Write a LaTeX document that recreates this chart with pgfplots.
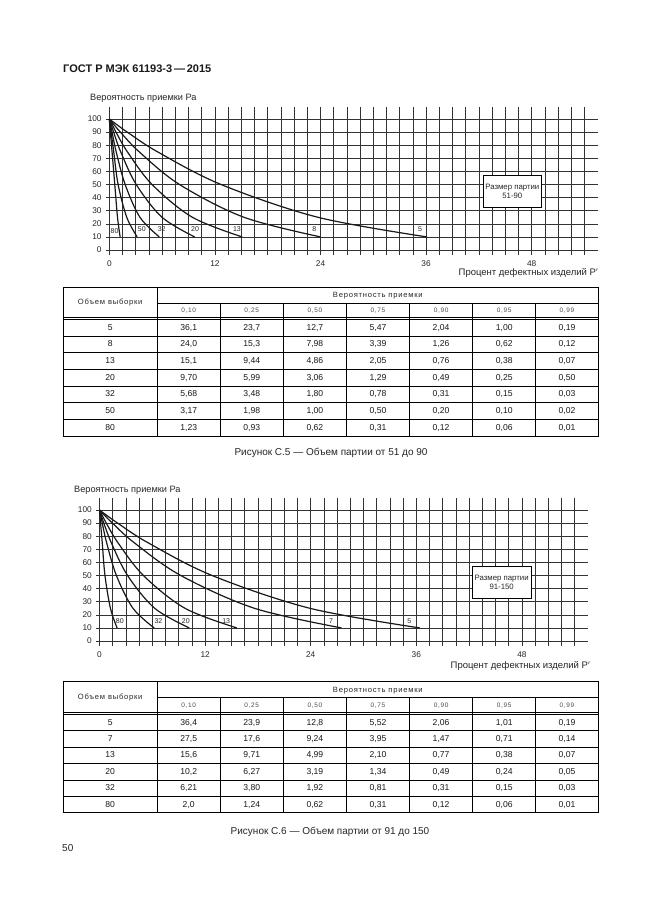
\documentclass[border=0pt]{standalone}
\usepackage{pgfplots}
\pgfplotsset{compat=1.18}
\usepackage{fontspec}
\setmainfont{Liberation Sans}
\newcommand\fs[1]{\fontsize{#1}{#1}\selectfont}

\pgfplotsset{oc/.style={
  scale only axis, width=491.9pt, height=148.3pt,
  xmin=-0.4, xmax=55.5, ymin=-3.8, ymax=109.4,
  axis line style={draw=none}, tick style={draw=none},
  xtick={0,12,24,36,48}, minor xtick={0,1.5,...,54}, ytick={0,10,...,100},
  xmajorgrids, xminorgrids, ymajorgrids,
  major grid style={black!80, line width=0.55pt},
  minor grid style={black!80, line width=0.55pt},
  /pgf/number format/assume math mode=true,
  ticklabel style={font=\fs{8.3}, text=black!85},
  xticklabel style={anchor=center, inner sep=0pt, yshift=-8.5pt},
  yticklabel style={anchor=east, inner sep=0pt, xshift=-4pt},
  clip=false,
}}
\tikzset{
  cv/.style={line width=1.2pt, black!90, smooth, tension=0.55, mark=none},
  tl/.style={line width=0.75pt, black},
  tc/.style={font=\fs{8.6}, inner sep=0pt, anchor=mid, text=black!90},
  th/.style={font=\fs{6.5}\addfontfeature{LetterSpace=10}, inner sep=0pt, anchor=mid, text=black!70},
  tg/.style={font=\fs{7.6}\addfontfeature{LetterSpace=10}, inner sep=0pt, anchor=mid, text=black!85},
  cl/.style={font=\fs{7}, inner sep=0pt, text=black!85},
  bx/.style={draw=black, fill=white, line width=0.6pt, minimum width=58.4pt, minimum height=32.3pt, align=center, font=\fs{7.8}, inner sep=0pt, text=black!85},
}
\newcommand\trow[9]{%
 \node[tc] at (110.2,#1) {#2};
 \node[tc] at (188.7,#1) {#3};
 \node[tc] at (251.7,#1) {#4};
 \node[tc] at (314.9,#1) {#5};
 \node[tc] at (378.0,#1) {#6};
 \node[tc] at (441.1,#1) {#7};
 \node[tc] at (504.2,#1) {#8};
 \node[tc] at (567.0,#1) {#9};}
\newcommand\thead[3]{% top, mid, double
 \node[tg] at (110.2,{(#1+#3)/2}) {Объем выборки};
 \node[tg] at (377.8,{(#1+#2)/2}) {Вероятность приемки};
 \foreach \x/\t in {188.7/{0,10},251.7/{0,25},314.9/{0,50},378.0/{0,75},441.1/{0,90},504.2/{0,95},567.0/{0,99}}
   \node[th] at (\x,{(#2+#3)/2}) {\t};}

\begin{document}
\begin{tikzpicture}[x=1pt,y=-1pt]
\path[use as bounding box, fill=white] (0,0) rectangle (646,913);

\node[anchor=west, font=\fs{11}\bfseries, text=black!90, inner sep=0pt] at (63,68.3) {ГОСТ Р МЭК 61193-3\,—\,2015};

% ---------- Chart C.5 ----------
\node[anchor=west, font=\fs{9.2}, text=black!85, inner sep=0pt] at (90,98.3) {Вероятность приемки Ра};
\begin{axis}[oc, at={(105.8pt,-255pt)}, anchor=south west]
\addplot[cv] coordinates {(0,100) (0.19,99) (1.00,95) (2.04,90) (5.47,75) (12.7,50) (23.7,25) (36.1,10)};
\addplot[cv] coordinates {(0,100) (0.12,99) (0.62,95) (1.26,90) (3.39,75) (7.98,50) (15.3,25) (24.0,10)};
\addplot[cv] coordinates {(0,100) (0.07,99) (0.38,95) (0.76,90) (2.05,75) (4.86,50) (9.44,25) (15.1,10)};
\addplot[cv] coordinates {(0,100) (0.05,99) (0.25,95) (0.49,90) (1.29,75) (3.06,50) (5.99,25) (9.70,10)};
\addplot[cv] coordinates {(0,100) (0.03,99) (0.15,95) (0.31,90) (0.78,75) (1.80,50) (3.48,25) (5.68,10)};
\addplot[cv] coordinates {(0,100) (0.02,99) (0.10,95) (0.20,90) (0.50,75) (1.00,50) (1.98,25) (3.17,10)};
\addplot[cv] coordinates {(0,100) (0.01,99) (0.06,95) (0.12,90) (0.31,75) (0.62,50) (0.93,25) (1.23,10)};
\node[cl] at (axis cs:0.6,14.5) {80};
\node[cl] at (axis cs:3.7,15.8) {50};
\node[cl] at (axis cs:5.95,15.8) {32};
\node[cl] at (axis cs:9.75,15.8) {20};
\node[cl] at (axis cs:14.5,15.8) {13};
\node[cl] at (axis cs:23.3,15.8) {8};
\node[cl] at (axis cs:35.3,15.8) {5};
\node[bx] at (axis cs:45.8,44.9) {Размер партии\\[1pt]51-90};
\end{axis}
\node[anchor=east, font=\fs{9.5}, text=black!85, inner sep=0pt] at (598,273) {Процент дефектных изделий Р′};

% ---------- Table 1 ----------
\draw[tl] (63,287.3) rectangle (598.3,436);
\draw[tl] (157.3,303) -- (598.3,303);
\draw[tl] (63,317.3) -- (598.3,317.3);
\draw[tl] (63,319.3) -- (598.3,319.3);
\foreach \y in {336.0,352.6,369.3,386.0,402.6,419.3} \draw[tl] (63,\y) -- (598.3,\y);
\draw[tl] (157.3,287.3) -- (157.3,436);
\foreach \x in {220,283.3,346.5,409.5,472.7,535.7} \draw[tl] (\x,303) -- (\x,436);
\thead{287.3}{303}{317.3}
\trow{327.6}{5}{36,1}{23,7}{12,7}{5,47}{2,04}{1,00}{0,19}
\trow{344.3}{8}{24,0}{15,3}{7,98}{3,39}{1,26}{0,62}{0,12}
\trow{361.0}{13}{15,1}{9,44}{4,86}{2,05}{0,76}{0,38}{0,07}
\trow{377.6}{20}{9,70}{5,99}{3,06}{1,29}{0,49}{0,25}{0,50}
\trow{394.3}{32}{5,68}{3,48}{1,80}{0,78}{0,31}{0,15}{0,03}
\trow{411.0}{50}{3,17}{1,98}{1,00}{0,50}{0,20}{0,10}{0,02}
\trow{427.7}{80}{1,23}{0,93}{0,62}{0,31}{0,12}{0,06}{0,01}

\node[font=\fs{10}, text=black!85, inner sep=0pt] at (331,453.3) {Рисунок С.5 — Объем партии от 51 до 90};

% ---------- Chart C.6 ----------
\node[anchor=west, font=\fs{9.2}, text=black!85, inner sep=0pt] at (74,490) {Вероятность приемки Ра};
\begin{axis}[oc, at={(96.0pt,-646pt)}, anchor=south west]
\addplot[cv] coordinates {(0,100) (0.19,99) (1.01,95) (2.06,90) (5.52,75) (12.8,50) (23.9,25) (36.4,10)};
\addplot[cv] coordinates {(0,100) (0.14,99) (0.71,95) (1.47,90) (3.95,75) (9.24,50) (17.6,25) (27.5,10)};
\addplot[cv] coordinates {(0,100) (0.07,99) (0.38,95) (0.77,90) (2.10,75) (4.99,50) (9.71,25) (15.6,10)};
\addplot[cv] coordinates {(0,100) (0.05,99) (0.24,95) (0.49,90) (1.34,75) (3.19,50) (6.27,25) (10.2,10)};
\addplot[cv] coordinates {(0,100) (0.03,99) (0.15,95) (0.31,90) (0.81,75) (1.92,50) (3.80,25) (6.21,10)};
\addplot[cv] coordinates {(0,100) (0.01,99) (0.06,95) (0.12,90) (0.31,75) (0.62,50) (1.24,25) (2.0,10)};
\node[cl] at (axis cs:2.3,15.5) {80};
\node[cl] at (axis cs:6.7,15.5) {32};
\node[cl] at (axis cs:9.8,15.5) {20};
\node[cl] at (axis cs:14.4,15.5) {13};
\node[cl] at (axis cs:26.3,15.5) {7};
\node[cl] at (axis cs:35.2,15.5) {5};
\node[bx] at (axis cs:45.7,44.9) {Размер партии\\[1pt]91-150};
\end{axis}
\node[anchor=east, font=\fs{9.5}, text=black!85, inner sep=0pt] at (590,665.7) {Процент дефектных изделий Р′};

% ---------- Table 2 ----------
\draw[tl] (63,681.7) rectangle (598.3,812.7);
\draw[tl] (157.3,697.7) -- (598.3,697.7);
\draw[tl] (63,712.3) -- (598.3,712.3);
\draw[tl] (63,714.3) -- (598.3,714.3);
\foreach \y in {730.7,747.1,763.5,779.9,796.3} \draw[tl] (63,\y) -- (598.3,\y);
\draw[tl] (157.3,681.7) -- (157.3,812.7);
\foreach \x in {220,283.3,346.5,409.5,472.7,535.7} \draw[tl] (\x,697.7) -- (\x,812.7);
\thead{681.7}{697.7}{712.3}
\trow{722.5}{5}{36,4}{23,9}{12,8}{5,52}{2,06}{1,01}{0,19}
\trow{738.9}{7}{27,5}{17,6}{9,24}{3,95}{1,47}{0,71}{0,14}
\trow{755.3}{13}{15,6}{9,71}{4,99}{2,10}{0,77}{0,38}{0,07}
\trow{771.7}{20}{10,2}{6,27}{3,19}{1,34}{0,49}{0,24}{0,05}
\trow{788.1}{32}{6,21}{3,80}{1,92}{0,81}{0,31}{0,15}{0,03}
\trow{804.5}{80}{2,0}{1,24}{0,62}{0,31}{0,12}{0,06}{0,01}

\node[font=\fs{10}, text=black!85, inner sep=0pt] at (330,832) {Рисунок С.6 — Объем партии от 91 до 150};

\node[anchor=west, font=\fs{10}, text=black!85, inner sep=0pt] at (62,848) {50};
\end{tikzpicture}
\end{document}
